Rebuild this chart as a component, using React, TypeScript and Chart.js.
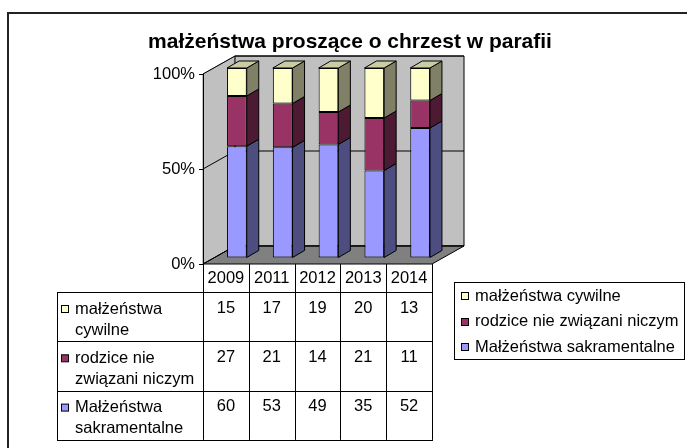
import React, { useEffect, useRef } from "react";
import { Chart, registerables } from "chart.js";

Chart.register(...registerables);

// ---- data ----
const years = ["2009", "2011", "2012", "2013", "2014"];
const cywilne = [15, 17, 19, 20, 13];
const rodzice = [27, 21, 14, 21, 11];
const sakramentalne = [60, 53, 49, 35, 52];
const seriesNames = ["małżeństwa cywilne", "rodzice nie związani niczym", "Małżeństwa sakramentalne"];
const tableLabels = [["małżeństwa", "cywilne"], ["rodzice nie", "związani niczym"], ["Małżeństwa", "sakramentalne"]];
const yTicks = [0, 50, 100];
const titleText = "małżeństwa proszące o chrzest w parafii";

// ---- styles ----
const FONT = "'Liberation Sans', Arial, sans-serif";
const frontColors = ["#9999FF", "#993366", "#FFFFCC"]; // bottom -> top
const sideColors = ["#4D4D80", "#4D1A33", "#808066"];
const topColors = ["#CCCCFF", "#C2668F", "#CCCCA3"];

const totals = years.map((_, i) => cywilne[i] + rodzice[i] + sakramentalne[i]);
const pct = (arr: number[]) => arr.map((v, i) => (v / totals[i]) * 100);

const WALL_D = { x: 32, y: -18 };
const BAR_T = { x: 11, y: -6 };
const BAR_D = { x: 12, y: -7 };

function poly(ctx: CanvasRenderingContext2D, pts: number[][], fill: string, stroke: string) {
  ctx.beginPath();
  ctx.moveTo(pts[0][0], pts[0][1]);
  for (let i = 1; i < pts.length; i++) ctx.lineTo(pts[i][0], pts[i][1]);
  ctx.closePath();
  ctx.fillStyle = fill;
  ctx.fill();
  ctx.strokeStyle = stroke;
  ctx.lineWidth = 1;
  ctx.stroke();
}

const threeD = {
  id: "threeD",
  beforeDraw(chart: any) {
    const { ctx, chartArea: a, scales } = chart;
    const y = scales.y;
    const L = a.left, R = a.right;
    const T = y.getPixelForValue(100), B = y.getPixelForValue(0);
    const dx = WALL_D.x, dy = WALL_D.y;
    ctx.save();
    // outer frame
    ctx.strokeStyle = "#222";
    ctx.lineWidth = 2;
    ctx.beginPath();
    ctx.moveTo(8, 470);
    ctx.lineTo(8, 13);
    ctx.lineTo(700, 13);
    ctx.stroke();
    // side wall
    poly(ctx, [[L, T], [L + dx, T + dy], [L + dx, B + dy], [L, B]], "#C0C0C0", "#808080");
    // back wall
    poly(ctx, [[L + dx, T + dy], [R + dx, T + dy], [R + dx, B + dy], [L + dx, B + dy]], "#C0C0C0", "#000");
    // floor
    poly(ctx, [[L, B], [L + dx, B + dy], [R + dx, B + dy], [R, B]], "#808080", "#000");
    // gridlines
    ctx.strokeStyle = "#000";
    ctx.lineWidth = 1;
    yTicks.forEach((v) => {
      const yy = y.getPixelForValue(v);
      ctx.beginPath();
      ctx.moveTo(L, yy);
      ctx.lineTo(L + dx, yy + dy);
      ctx.lineTo(R + dx, yy + dy);
      ctx.stroke();
    });
    ctx.restore();
  },
  beforeDatasetsDraw(chart: any) {
    chart.ctx.save();
    chart.ctx.translate(BAR_T.x, BAR_T.y);
  },
  afterDatasetsDraw(chart: any) {
    const ctx = chart.ctx;
    const n = chart.data.datasets.length;
    for (let di = 0; di < n; di++) {
      const meta = chart.getDatasetMeta(di);
      meta.data.forEach((el: any) => {
        const p = el.getProps(["x", "y", "base", "width"], true);
        const left = p.x - p.width / 2, right = p.x + p.width / 2;
        const top = Math.min(p.y, p.base), bottom = Math.max(p.y, p.base);
        poly(ctx, [[right, top], [right + BAR_D.x, top + BAR_D.y], [right + BAR_D.x, bottom + BAR_D.y], [right, bottom]], sideColors[di], "#000");
        if (di === n - 1) {
          poly(ctx, [[left, top], [left + BAR_D.x, top + BAR_D.y], [right + BAR_D.x, top + BAR_D.y], [right, top]], topColors[di], "#000");
        }
      });
    }
    ctx.restore();
  },
  afterDraw(chart: any) {
    const { ctx, chartArea: a, scales } = chart;
    const x = scales.x, y = scales.y;
    const L = a.left, R = a.right;
    const B = y.getPixelForValue(0);
    const colW = (R - L) / years.length;
    ctx.save();
    // title
    ctx.fillStyle = "#000";
    ctx.font = `bold 21px ${FONT}`;
    ctx.textAlign = "center";
    ctx.textBaseline = "middle";
    ctx.fillText(titleText, 350, 42);

    // data table
    const labelLeft = 57;
    const headerBottom = B + 28;
    const rowH = 49.3;
    const tableBottom = headerBottom + rowH * 3;
    ctx.strokeStyle = "#000";
    ctx.lineWidth = 1;
    ctx.beginPath();
    for (let k = 0; k <= years.length; k++) {
      const xx = Math.round(L + k * colW) + 0.5;
      ctx.moveTo(xx, B);
      ctx.lineTo(xx, tableBottom);
    }
    ctx.moveTo(labelLeft + 0.5, headerBottom);
    ctx.lineTo(labelLeft + 0.5, tableBottom);
    for (let r = 0; r <= 3; r++) {
      const yy = Math.round(headerBottom + r * rowH) + 0.5;
      ctx.moveTo(labelLeft, yy);
      ctx.lineTo(R + 1, yy);
    }
    ctx.stroke();

    ctx.font = `16.5px ${FONT}`;
    ctx.fillStyle = "#000";
    ctx.textBaseline = "middle";
    ctx.textAlign = "center";
    years.forEach((yr, i) => {
      ctx.fillText(yr, x.getPixelForValue(i), B + 14);
    });
    const rows = [cywilne, rodzice, sakramentalne];
    const rowColors = [frontColors[2], frontColors[1], frontColors[0]];
    rows.forEach((vals, r) => {
      const top = headerBottom + r * rowH;
      ctx.textAlign = "center";
      ctx.fillStyle = "#000";
      vals.forEach((v, i) => ctx.fillText(String(v), x.getPixelForValue(i), top + 16));
      // swatch
      ctx.fillStyle = rowColors[r];
      ctx.fillRect(61.5, top + 13.5, 7, 7);
      ctx.strokeStyle = "#000";
      ctx.strokeRect(61.5, top + 13.5, 7, 7);
      ctx.fillStyle = "#000";
      ctx.textAlign = "left";
      ctx.fillText(tableLabels[r][0], 75, top + 17);
      ctx.fillText(tableLabels[r][1], 75, top + 38);
    });

    // legend
    ctx.strokeStyle = "#000";
    ctx.strokeRect(454.5, 282.5, 230, 77);
    seriesNames.forEach((name, i) => {
      const cy = 296 + i * 25.5;
      ctx.fillStyle = rowColors[i];
      ctx.fillRect(461.5, Math.round(cy) - 3.5, 7, 7);
      ctx.strokeRect(461.5, Math.round(cy) - 3.5, 7, 7);
      ctx.fillStyle = "#000";
      ctx.textAlign = "left";
      ctx.fillText(name, 475, cy);
    });
    ctx.restore();
  },
};

export default function App() {
  const ref = useRef<HTMLCanvasElement>(null);
  useEffect(() => {
    if (!ref.current) return;
    Chart.defaults.font.family = FONT;
    const common = { borderColor: "#000", borderWidth: 1, borderSkipped: false, clip: false as any, categoryPercentage: 1, barPercentage: 0.43 };
    const chart = new Chart(ref.current, {
      type: "bar",
      data: {
        labels: years,
        datasets: [
          { label: seriesNames[2], data: pct(sakramentalne), backgroundColor: frontColors[0], ...common },
          { label: seriesNames[1], data: pct(rodzice), backgroundColor: frontColors[1], ...common },
          { label: seriesNames[0], data: pct(cywilne), backgroundColor: frontColors[2], ...common },
        ],
      } as any,
      options: {
        responsive: false,
        animation: false,
        devicePixelRatio: 1,
        layout: { padding: { left: 0, right: 255, top: 74, bottom: 184 } },
        plugins: { legend: { display: false }, title: { display: false }, tooltip: { enabled: false } },
        scales: {
          x: { display: false, stacked: true },
          y: {
            stacked: true,
            min: 0,
            max: 100,
            afterFit: (s: any) => { s.width = 203; },
            ticks: { stepSize: 50, callback: (v: any) => v + "%", color: "#000", font: { family: FONT, size: 16.5 }, padding: 4 },
            grid: { drawOnChartArea: false, drawTicks: true, tickLength: 4, color: "#000" },
            border: { display: true, color: "#000" },
          },
        },
      } as any,
      plugins: [threeD],
    });
    return () => chart.destroy();
  }, []);
  return (
    <div style={{ position: "absolute", left: 0, top: 0, width: 687, height: 448 }}>
      <canvas ref={ref} width={687} height={448} />
    </div>
  );
}
